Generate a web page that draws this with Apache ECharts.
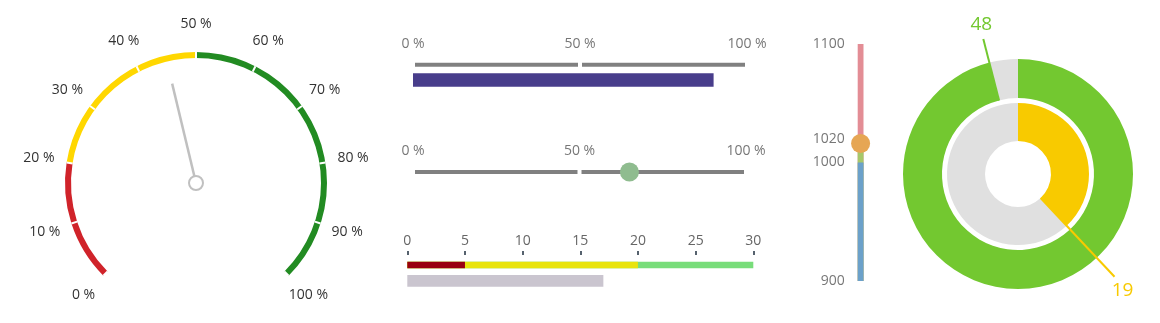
<!DOCTYPE html>
<html>
<head>
<meta charset="utf-8">
<script src="https://cdn.jsdelivr.net/npm/echarts@6/dist/echarts.min.js"></script>
<style>
html,body{margin:0;padding:0;background:#fff;}
#chart{width:1160px;height:323px;}
</style>
</head>
<body>
<div id="chart"></div>
<script>
// ---- data ----
const gaugeValue = 45;
const gaugeStops = [20, 50, 100];           // red up to 20, yellow up to 50, green up to 100
const bulletTicks = [0, 50, 100];
const bulletBarValue = 90;
const bulletMarkerValue = 65;
const rangeStops = [5, 20, 30];             // dark red, yellow, green bands
const rangeBarValue = 17;
const vThresholds = [900, 1000, 1020, 1100];
const vMarkerValue = 1016;
const outerRing = { value: 48, max: 50 };
const innerRing = { value: 19, max: 50 };

// ---- styles ----
const FONT = 'Open Sans';
const gaugeColors = ['#d0232a', '#ffd700', '#228b22'];
const rangeColors = ['#990010', '#e8e40c', '#78dd7a'];
const vColors = ['#6ba1ca', '#a6c869', '#e38d95'];
const ringGreen = '#73c830', ringYellow = '#f8ca00', ringGray = '#e0e0e0';

const chart = echarts.init(document.getElementById('chart'), null, { renderer: 'canvas' });

const grids = [
  { left: 413, width: 334, top: 60.7, height: 8 },       // 0 track 1
  { left: 413, width: 334, top: 73.3, height: 13.4 },    // 1 value bar
  { left: 413, width: 333, top: 168, height: 8 },        // 2 track 2
  { left: 407.3, width: 346, top: 261.7, height: 6.6 },  // 3 range band
  { left: 407.3, width: 346, top: 275, height: 11.7 },   // 4 gray bar
  { left: 857.7, width: 5.8, top: 44, height: 237 }      // 5 vertical
];

const pctAxis = (gi, showLabels) => ({
  gridIndex: gi, type: 'value', min: bulletTicks[0], max: bulletTicks[bulletTicks.length - 1],
  interval: bulletTicks[1] - bulletTicks[0], position: 'top',
  axisLine: { show: false }, axisTick: { show: false }, splitLine: { show: false },
  axisLabel: { show: showLabels, formatter: '{value} %', color: '#777', fontSize: 14, fontFamily: FONT, margin: 10 }
});
const cat = (gi) => ({ gridIndex: gi, type: 'category', data: ['a'], show: false });

const xAxes = [
  pctAxis(0, true),
  Object.assign(pctAxis(1, false), { show: false }),
  pctAxis(2, true),
  {
    gridIndex: 3, type: 'value', min: 0, max: rangeStops[rangeStops.length - 1], interval: 5,
    position: 'top', offset: 6.7,
    axisLine: { show: false }, splitLine: { show: false },
    axisTick: { show: true, length: 4, lineStyle: { color: '#56626e', width: 2 } },
    axisLabel: { color: '#666', fontSize: 14, fontFamily: FONT, margin: 7 }
  },
  { gridIndex: 4, type: 'value', min: 0, max: rangeStops[rangeStops.length - 1], show: false },
  cat(5)
];
const yAxes = [
  cat(0), cat(1), cat(2), cat(3), cat(4),
  {
    gridIndex: 5, type: 'value', min: vThresholds[0], max: vThresholds[vThresholds.length - 1],
    startValue: vThresholds[0],
    axisLine: { show: false }, axisTick: { show: false }, splitLine: { show: false },
    axisLabel: { customValues: vThresholds, formatter: v => String(v), color: '#777', fontSize: 14, fontFamily: FONT, margin: 13 }
  }
];

const series = [];

// gauge
series.push({
  type: 'gauge', center: [196, 183], radius: 131, startAngle: 225, endAngle: -45,
  min: 0, max: 100, splitNumber: 10,
  axisLine: { lineStyle: { width: 6, color: gaugeStops.map((s, i) => [s / 100, gaugeColors[i]]) } },
  splitLine: { distance: -6, length: 6, lineStyle: { color: '#fff', width: 2 } },
  axisTick: { show: false },
  axisLabel: { distance: -28, rotate: 0.0001, color: '#333', fontSize: 14, fontFamily: FONT, formatter: '{value} %', padding: [3, 0, 0, 0] },
  pointer: { icon: 'rect', width: 2.5, length: '78%', itemStyle: { color: '#c0c0c0' } },
  anchor: { show: true, showAbove: true, size: 14, itemStyle: { color: '#fff', borderColor: '#c0c0c0', borderWidth: 2 } },
  title: { show: false }, detail: { show: false },
  data: [{ value: gaugeValue }]
});

// track 1 & 2 (two halves)
[0, 2].forEach(gi => {
  for (let k = 1; k < bulletTicks.length; k++) {
    series.push({
      type: 'bar', xAxisIndex: gi, yAxisIndex: gi, stack: 'track' + gi, barWidth: '100%',
      silent: true, itemStyle: { color: '#808080', borderColor: '#fff', borderWidth: 2 },
      data: [bulletTicks[k] - bulletTicks[k - 1]]
    });
  }
});
// value bar
series.push({
  type: 'bar', xAxisIndex: 1, yAxisIndex: 1, barWidth: '100%', silent: true,
  itemStyle: { color: '#483d8b' }, data: [bulletBarValue]
});
// marker
series.push({
  type: 'scatter', xAxisIndex: 2, yAxisIndex: 2, symbolSize: 19, z: 5, silent: true,
  itemStyle: { color: '#8fbc8f', opacity: 1 }, data: [[bulletMarkerValue, 0]]
});
// range bands (drawn largest first, overlapped)
for (let i = rangeStops.length - 1; i >= 0; i--) {
  series.push({
    type: 'bar', xAxisIndex: 3, yAxisIndex: 3, barWidth: '100%', barGap: '-100%', silent: true,
    itemStyle: { color: rangeColors[i] }, data: [rangeStops[i]]
  });
}
series.push({
  type: 'bar', xAxisIndex: 4, yAxisIndex: 4, barWidth: '100%', silent: true,
  itemStyle: { color: '#cac5cf' }, data: [rangeBarValue]
});
// vertical bands
for (let i = vThresholds.length - 1; i >= 1; i--) {
  series.push({
    type: 'bar', xAxisIndex: 5, yAxisIndex: 5, barWidth: '100%', barGap: '-100%', silent: true,
    itemStyle: { color: vColors[i - 1] }, data: [vThresholds[i]]
  });
}
series.push({
  type: 'scatter', xAxisIndex: 5, yAxisIndex: 5, symbolSize: 19, z: 5, silent: true,
  itemStyle: { color: '#e6a654', opacity: 1 }, data: [[0, vMarkerValue]]
});

// rings
const ringCenter = [1018, 174];
series.push({
  type: 'pie', center: ringCenter, radius: [76, 115], startAngle: 90, clockwise: true, silent: true,
  label: { show: false }, labelLine: { show: false },
  data: [
    { value: outerRing.value, itemStyle: { color: ringGreen } },
    { value: outerRing.max - outerRing.value, itemStyle: { color: ringGray } }
  ]
});
series.push({
  type: 'pie', center: ringCenter, radius: [33, 71], startAngle: 90, clockwise: true, silent: true,
  label: { show: false }, labelLine: { show: false },
  data: [
    { value: innerRing.value, itemStyle: { color: ringYellow } },
    { value: innerRing.max - innerRing.value, itemStyle: { color: ringGray } }
  ]
});
// label pies: a zero-width slice at the end of each value arc carries the label
function labelPie(ring, r, len, color, vAlign, pad) {
  return {
    type: 'pie', center: ringCenter, radius: [0, r], startAngle: 90, clockwise: true, silent: true,
    z: 10, avoidLabelOverlap: false, minShowLabelAngle: 0,
    itemStyle: { color: 'rgba(0,0,0,0)' },
    label: { show: false },
    labelLine: { show: false },
    labelLayout: { align: 'center', verticalAlign: vAlign },
    data: [
      { value: ring.value },
      { value: 0, label: { show: true, position: 'outside', formatter: String(ring.value), color: color,
          fontSize: 19, fontFamily: FONT, distanceToLabelLine: 2, padding: pad },
        labelLine: { show: true, length: len, length2: 0, smooth: false, lineStyle: { color: color, width: 2 } } },
      { value: ring.max - ring.value }
    ]
  };
}
series.push(labelPie(outerRing, 76, 63.5, ringGreen, 'bottom', [0, 0, 5, 0]));
series.push(labelPie(innerRing, 33, 108, ringYellow, 'top', [4, 0, 0, 12]));

chart.setOption({
  backgroundColor: '#fff',
  animation: false,
  textStyle: { fontFamily: FONT },
  grid: grids,
  xAxis: xAxes,
  yAxis: yAxes,
  series: series
});
</script>
</body>
</html>
